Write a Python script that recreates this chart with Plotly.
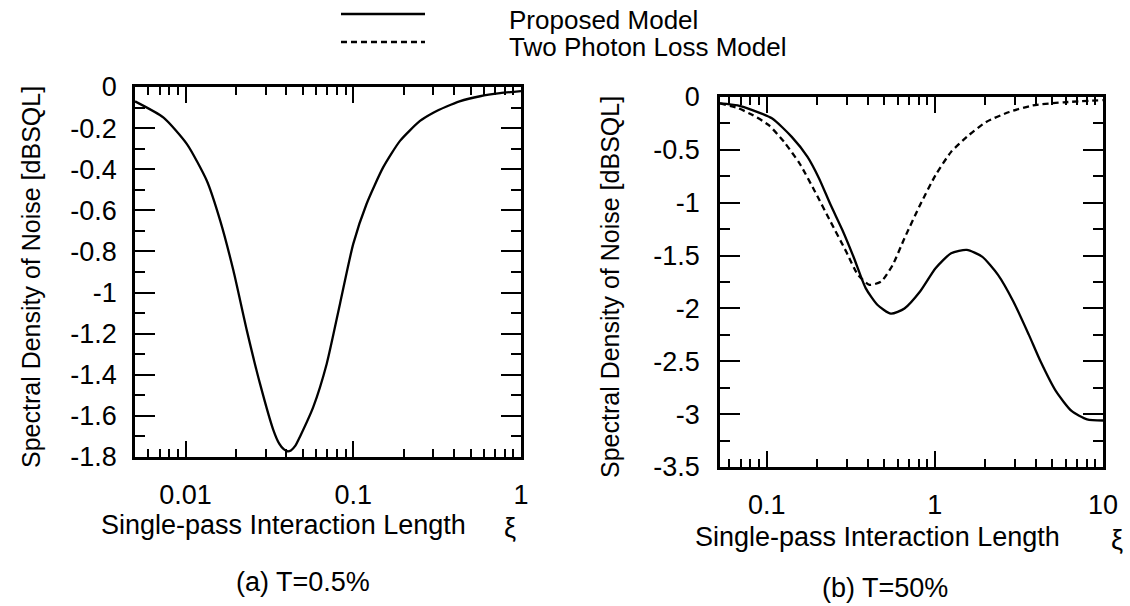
import math
import plotly.graph_objects as go

# ---------------- data ----------------
# (a) T = 0.5 %  : proposed model only
xi_a = [0.005, 0.0074, 0.0102, 0.0134, 0.0161, 0.0193, 0.0232, 0.0278, 0.0334,
        0.0362, 0.0385, 0.0405, 0.0425, 0.0452, 0.0482, 0.0578, 0.0695, 0.0834,
        0.1, 0.12, 0.151, 0.19, 0.25, 0.3, 0.36, 0.43, 0.57, 0.75, 1.0]
noise_a = [-0.07, -0.149, -0.278, -0.456, -0.65, -0.893, -1.184, -1.443, -1.669,
           -1.735, -1.762, -1.772, -1.768, -1.745, -1.70, -1.556, -1.346, -1.054,
           -0.763, -0.569, -0.39, -0.262, -0.165, -0.125, -0.095, -0.07, -0.045,
           -0.03, -0.02]

# (b) T = 50 %  : proposed model
xi_b_prop = [0.0528, 0.0672, 0.083, 0.108, 0.141, 0.175, 0.205, 0.24, 0.282, 0.331,
             0.388, 0.455, 0.548, 0.66, 0.817, 1.01, 1.25, 1.55, 1.91, 2.37, 2.93,
             3.62, 4.25, 5.25, 6.5, 8.04, 10.0]
noise_b_prop = [-0.06, -0.079, -0.126, -0.204, -0.377, -0.566, -0.77, -1.02, -1.258,
                -1.525, -1.808, -1.965, -2.05, -2.0, -1.84, -1.62, -1.478, -1.447,
                -1.51, -1.68, -1.934, -2.248, -2.5, -2.783, -2.97, -3.05, -3.06]

# (b) T = 50 %  : two photon loss model
xi_b_tpl = [0.0528, 0.0672, 0.083, 0.103, 0.127, 0.157, 0.194, 0.24, 0.297, 0.349,
            0.409, 0.48, 0.562, 0.66, 0.817, 1.01, 1.25, 1.55, 2.02, 2.77, 3.82,
            5.85, 10.0]
noise_b_tpl = [-0.06, -0.104, -0.173, -0.267, -0.425, -0.629, -0.896, -1.18, -1.462,
               -1.682, -1.777, -1.745, -1.588, -1.336, -1.022, -0.739, -0.519, -0.377,
               -0.236, -0.142, -0.08, -0.05, -0.03]

# tick labels
xt_a_vals = [0.01, 0.1, 1]
xt_a_text = ["0.01", "0.1", "1"]
xt_b_vals = [0.1, 1, 10]
xt_b_text = ["0.1", "1", "10"]
yt_a_vals = [0, -0.2, -0.4, -0.6, -0.8, -1, -1.2, -1.4, -1.6, -1.8]
yt_a_text = ["0", "-0.2", "-0.4", "-0.6", "-0.8", "-1", "-1.2", "-1.4", "-1.6", "-1.8"]
yt_b_vals = [0, -0.5, -1, -1.5, -2, -2.5, -3, -3.5]
yt_b_text = ["0", "-0.5", "-1", "-1.5", "-2", "-2.5", "-3", "-3.5"]

legend_names = ["Proposed Model", "Two Photon Loss Model"]
panel_titles = ["(a) T=0.5%", "(b) T=50%"]
x_title = "Single-pass Interaction Length"
y_title = "Spectral Density of Noise [dBSQL]"

# ---------------- figure ----------------
W, H = 1130, 606
FONT = "Liberation Sans, Arial, sans-serif"


def px(xp):
    return xp / W


def py(yp):
    return 1 - yp / H


def log_minor(lo, hi):
    vals = []
    for k in range(lo, hi):
        for m in range(2, 10):
            vals.append(m * 10 ** k)
    return vals


fig = go.Figure()
line_kw = dict(color="black", width=2.3, shape="spline", smoothing=0.6)
fig.add_trace(go.Scatter(x=xi_a, y=noise_a, mode="lines", line=line_kw,
                         xaxis="x", yaxis="y", showlegend=False))
fig.add_trace(go.Scatter(x=xi_b_tpl, y=noise_b_tpl, mode="lines",
                         line=dict(line_kw, dash="6px,4px"),
                         xaxis="x2", yaxis="y2", showlegend=False))
fig.add_trace(go.Scatter(x=xi_b_prop, y=noise_b_prop, mode="lines", line=line_kw,
                         xaxis="x2", yaxis="y2", showlegend=False))

tickfont = dict(family=FONT, size=27, color="black")
common = dict(showgrid=False, zeroline=False, showline=True, linecolor="black",
              linewidth=2.5, mirror="ticks", ticks="inside", tickcolor="black",
              tickwidth=2, tickfont=tickfont, tickmode="array", automargin=False)

fig.update_layout(
    width=W, height=H, margin=dict(l=0, r=0, t=0, b=0, autoexpand=False),
    paper_bgcolor="white", plot_bgcolor="white", showlegend=False,
    xaxis=dict(common, type="log", domain=[px(135), px(521)],
               range=[math.log10(0.005), 0], anchor="y",
               tickvals=xt_a_vals, ticktext=xt_a_text, ticklen=16,
               ticklabelstandoff=12,
               minor=dict(ticks="inside", ticklen=8, tickwidth=2, tickcolor="black",
                          tickmode="array", tickvals=log_minor(-3, 0))),
    yaxis=dict(common, domain=[py(457), py(87)], range=[-1.8, 0], anchor="x",
               tickvals=yt_a_vals, ticktext=yt_a_text, ticklen=20,
               ticklabelstandoff=10,
               minor=dict(ticks="inside", ticklen=10, tickwidth=2, tickcolor="black",
                          tickmode="linear", tick0=-0.1, dtick=0.2)),
    xaxis2=dict(common, type="log", domain=[px(720), px(1103)],
                range=[math.log10(0.0528), 1], anchor="y2",
                tickvals=xt_b_vals, ticktext=xt_b_text, ticklen=16,
                ticklabelstandoff=12,
                minor=dict(ticks="inside", ticklen=8, tickwidth=2, tickcolor="black",
                           tickmode="array", tickvals=log_minor(-2, 1))),
    yaxis2=dict(common, domain=[py(467), py(97)], range=[-3.5, 0], anchor="x2",
                tickvals=yt_b_vals, ticktext=yt_b_text, ticklen=20,
                ticklabelstandoff=12,
                minor=dict(ticks="inside", ticklen=10, tickwidth=2, tickcolor="black",
                           tickmode="linear", tick0=-0.25, dtick=0.5)),
)

txt = dict(family=FONT, color="black")


def ann(x, y, text, size=27, xanchor="center", angle=0):
    return dict(x=px(x), y=py(y), xref="paper", yref="paper", text=text,
                xanchor=xanchor, yanchor="middle", textangle=angle,
                showarrow=False, font=dict(txt, size=size))


annots = [
    ann(283, 525, x_title),
    ann(510, 528, "ξ"),
    ann(877, 537, x_title),
    ann(1117, 540, "ξ"),
    ann(31, 277, y_title, size=25, angle=-90),
    ann(610, 287, y_title, size=25, angle=-90),
    ann(303, 582, panel_titles[0]),
    ann(885, 588, panel_titles[1]),
    ann(507, 20, legend_names[0], size=26, xanchor="left"),
    ann(507, 47, legend_names[1], size=26, xanchor="left"),
]
fig.update_layout(annotations=annots)

fig.add_shape(type="line", xref="paper", yref="paper", x0=px(341), x1=px(425),
              y0=py(14), y1=py(14), line=dict(color="black", width=2.3))
fig.add_shape(type="line", xref="paper", yref="paper", x0=px(341), x1=px(425),
              y0=py(42), y1=py(42), line=dict(color="black", width=2.3, dash="6px,4px"))

fig.write_html("out.html")
